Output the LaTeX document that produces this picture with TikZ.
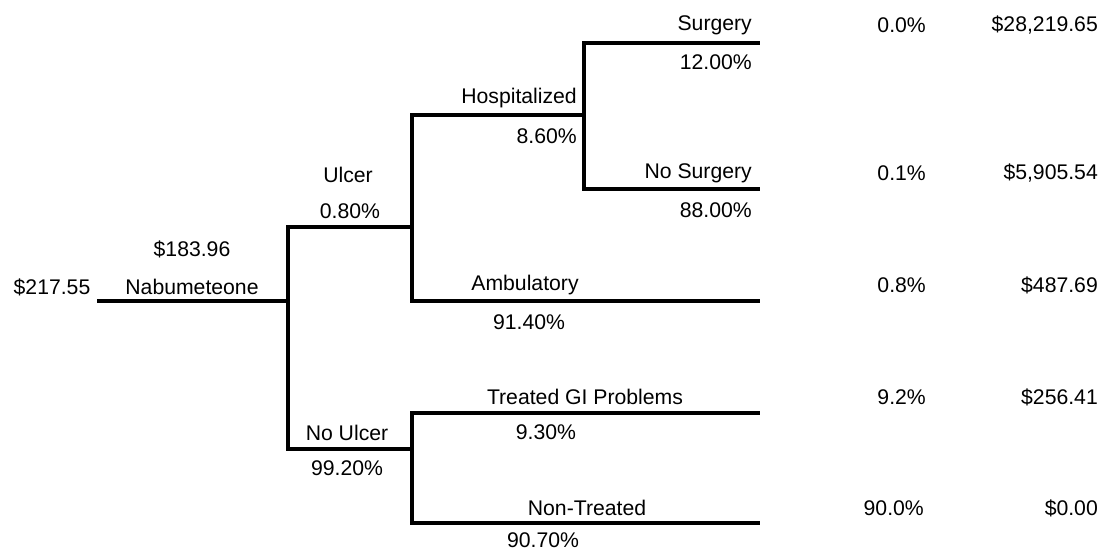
\documentclass[tikz,border=0pt]{standalone}
\usepackage{fontspec}
\setmainfont{Liberation Sans}
\begin{document}
\begin{tikzpicture}[x=1pt,y=-1pt,
  branch/.style={line width=3.4pt, line join=miter},
  lbl/.style={inner sep=0pt, font=\fontsize{21.2}{23}\selectfont, text=black},
  rlbl/.style={lbl, anchor=east}]
\useasboundingbox (0,0) rectangle (1108,552);
% junction coordinates
\coordinate (rootL) at (97,301);
\coordinate (j1) at (288,301);
\coordinate (j2) at (412,227);
\coordinate (j3) at (412,449);
\coordinate (j4) at (584,115);
\coordinate (sE) at (760,43);
\coordinate (nsE) at (760,189);
\coordinate (aE) at (760,301);
\coordinate (tE) at (760,413);
\coordinate (ntE) at (760,523);
% connectors
\draw[branch] (rootL) -- (j1);
\draw[branch] (j1) |- (j2);
\draw[branch] (j1) |- (j3);
\draw[branch] (j2) |- (j4);
\draw[branch] (j2) |- (aE);
\draw[branch] (j4) |- (sE);
\draw[branch] (j4) |- (nsE);
\draw[branch] (j3) |- (tE);
\draw[branch] (j3) |- (ntE);
% labels
\node[lbl] (rootval) at (52,287) {\$217.55};
\node[lbl] (nab) at (192,287) {Nabumeteone};
\node[lbl] (nabval) at (192,249) {\$183.96};
\node[lbl] (ulcer) at (348,175) {Ulcer};
\node[lbl] (ulcerp) at (350,211) {0.80\%};
\node[lbl] (noulcer) at (347,433) {No Ulcer};
\node[lbl] (noulcerp) at (347,468) {99.20\%};
\node[rlbl] (hosp) at (577,98) {Hospitalized};
\node[rlbl] (hospp) at (577,136) {8.60\%};
\node[rlbl] (surg) at (752,25) {Surgery};
\node[rlbl] (surgp) at (752,62) {12.00\%};
\node[rlbl] (nsurg) at (752,173) {No Surgery};
\node[rlbl] (nsurgp) at (752,210) {88.00\%};
\node[lbl] (amb) at (525,285) {Ambulatory};
\node[lbl] (ambp) at (529,322) {91.40\%};
\node[lbl] (treat) at (585,397) {Treated GI Problems};
\node[lbl] (treatp) at (546,432) {9.30\%};
\node[lbl] (ntreat) at (587,508) {Non-Treated};
\node[lbl] (ntreatp) at (543,540) {90.70\%};
% outcome columns
\node[rlbl] (o1p) at (926,25) {0.0\%};
\node[rlbl] (o1v) at (1098,25) {\$28,219.65};
\node[rlbl] (o2p) at (926,173) {0.1\%};
\node[rlbl] (o2v) at (1098,173) {\$5,905.54};
\node[rlbl] (o3p) at (926,285) {0.8\%};
\node[rlbl] (o3v) at (1098,285) {\$487.69};
\node[rlbl] (o4p) at (926,397) {9.2\%};
\node[rlbl] (o4v) at (1098,397) {\$256.41};
\node[rlbl] (o5p) at (924,508) {90.0\%};
\node[rlbl] (o5v) at (1098,508) {\$0.00};
\end{tikzpicture}
\end{document}
